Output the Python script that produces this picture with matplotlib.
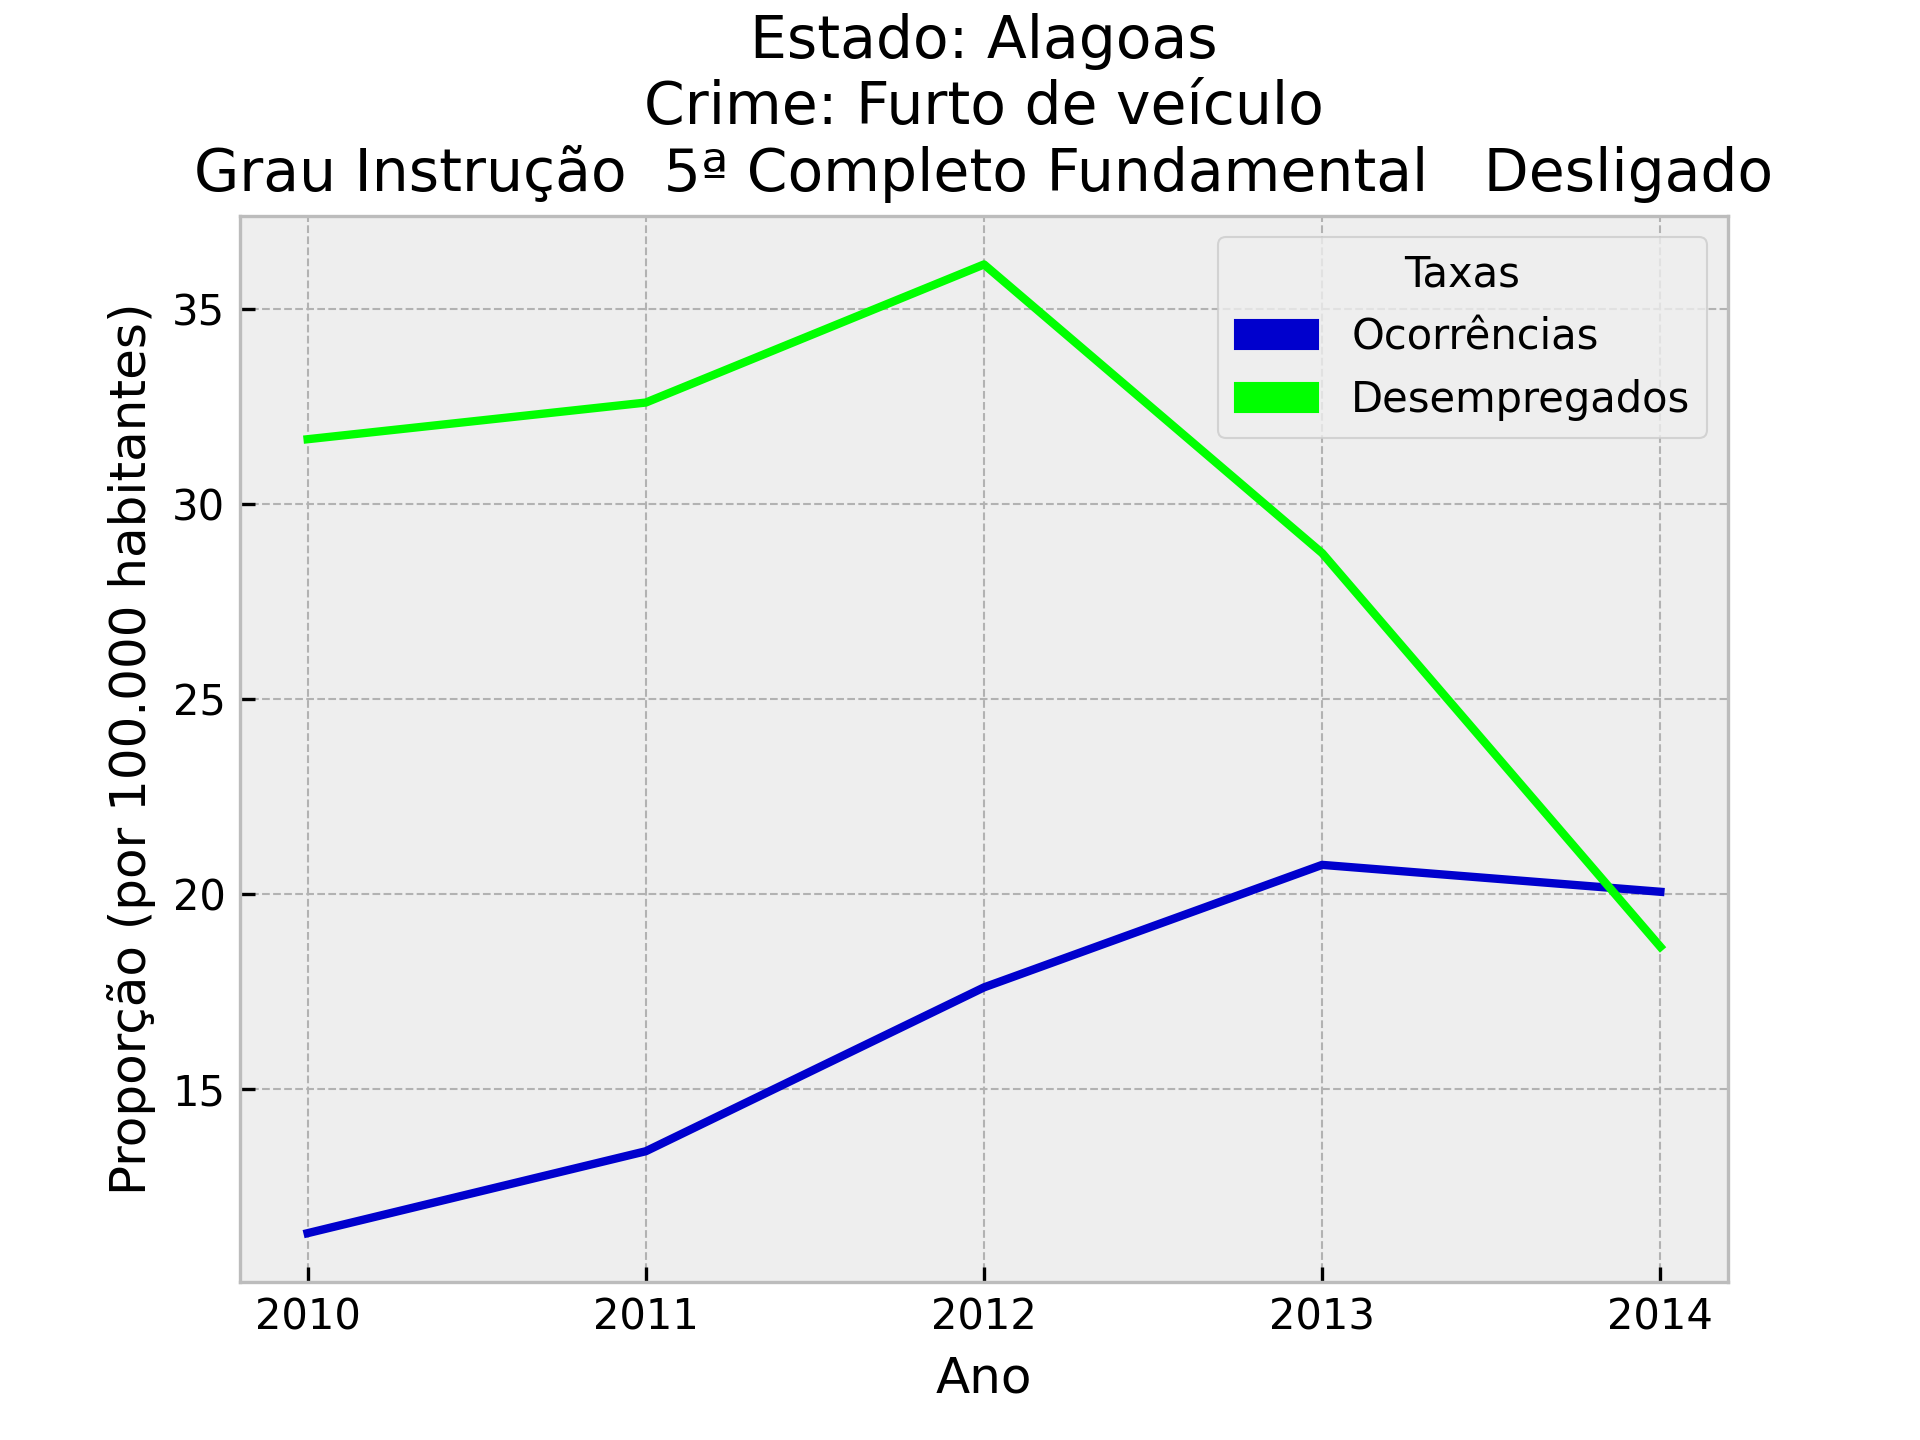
import numpy as np
import matplotlib.pyplot as plt
import matplotlib.patches as mpatches

# Data
anos = [2010, 2011, 2012, 2013, 2014]
ocorrencias = [11.30, 13.40, 17.60, 20.74, 20.05]
desempregados = [31.65, 32.59, 36.13, 28.73, 18.64]

plt.style.use('bmh')
fig, ax = plt.subplots(figsize=(6.4, 4.8), dpi=300)

ax.plot(anos, ocorrencias, color='mediumblue')
ax.plot(anos, desempregados, color='lime')

ax.set_xticks(anos)
ax.set_xlabel('Ano')
ax.set_ylabel('Proporção (por 100.000 habitantes)')
ax.set_title('Estado: Alagoas\nCrime: Furto de veículo\n'
             'Grau Instrução  5ª Completo Fundamental   Desligado',
             fontsize=14)

# Legend with patches
patches = [mpatches.Patch(color='mediumblue', label='Ocorrências'),
           mpatches.Patch(color='lime', label='Desempregados')]
ax.legend(handles=patches, title='Taxas', loc='upper right')

plt.subplots_adjust(left=0.125, right=0.9, top=0.85, bottom=0.11)
plt.savefig('out.png', dpi=300)
